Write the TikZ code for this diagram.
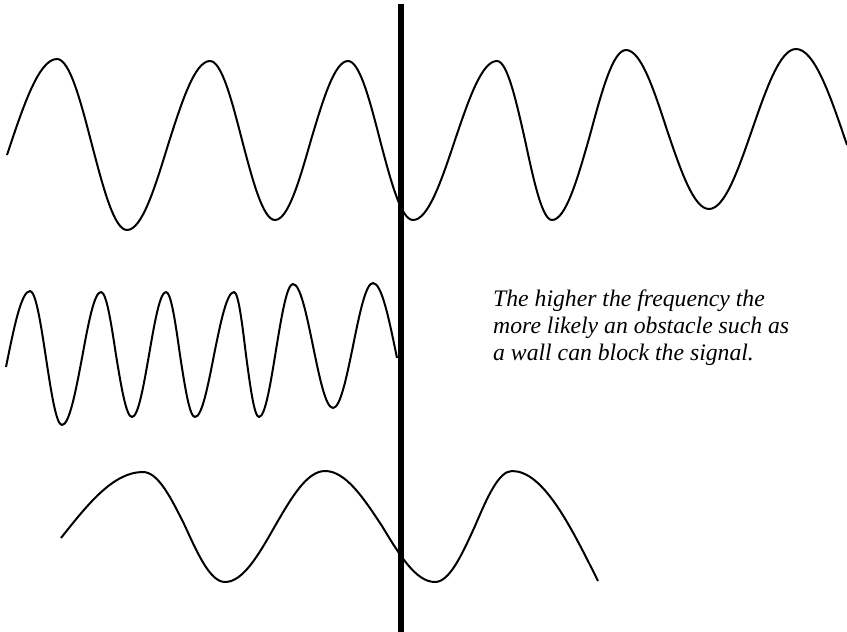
\documentclass[tikz,border=0pt]{standalone}
\usepackage{fontspec}
\setmainfont{Liberation Serif}
\begin{document}
\begin{tikzpicture}[x=1pt, y=-1pt, line join=round,
    wave/.style={draw=black, line width=2pt},
    wall/.style={draw=black, line width=6.5pt}]
    \useasboundingbox (0,0) rectangle (847,632);
    % the wall
    \draw[wall] (401,4) -- (401,632);
    % medium frequency, passes the wall
    \draw[wave] (7,155) sin (57,59) cos (92,145) sin (127,230) cos (168,145)
        sin (210,61) cos (242,140) sin (275,220) cos (311,140) sin (348,61)
        cos (380,140) sin (413,220) cos (455,140) sin (497,61) cos (525,140)
        sin (552,220) cos (590,135) sin (626,50) cos (667,130) sin (709,209)
        cos (752,130) sin (796,49) cos (847,145);
    % high frequency, stops at the wall
    \draw[wave] (6,367) sin (30,291) cos (46,358) sin (62,425) cos (82,358)
        sin (101,292) cos (116,355) sin (132,417) cos (149,355) sin (166,292)
        cos (180,355) sin (195,417) cos (214,355) sin (234,292) cos (246,355)
        sin (259,417) cos (276,350) sin (293,284) cos (313,346) sin (333,408)
        cos (353,346) sin (373,283) cos (397,358);
    % low frequency
    \draw[wave] (61,538) sin (143,472) cos (185,526) sin (225,582) cos (275,526)
        sin (325,471) cos (382,526) sin (435,582) cos (475,526) sin (512,471)
        cos (598,581);
    \node[anchor=north west, inner sep=0pt, align=left,
          font=\fontsize{23.7}{26.7}\selectfont\itshape] (note) at (493,290)
        {The higher the frequency the\\more likely an obstacle such as\\a wall can block the signal.};
\end{tikzpicture}
\end{document}
